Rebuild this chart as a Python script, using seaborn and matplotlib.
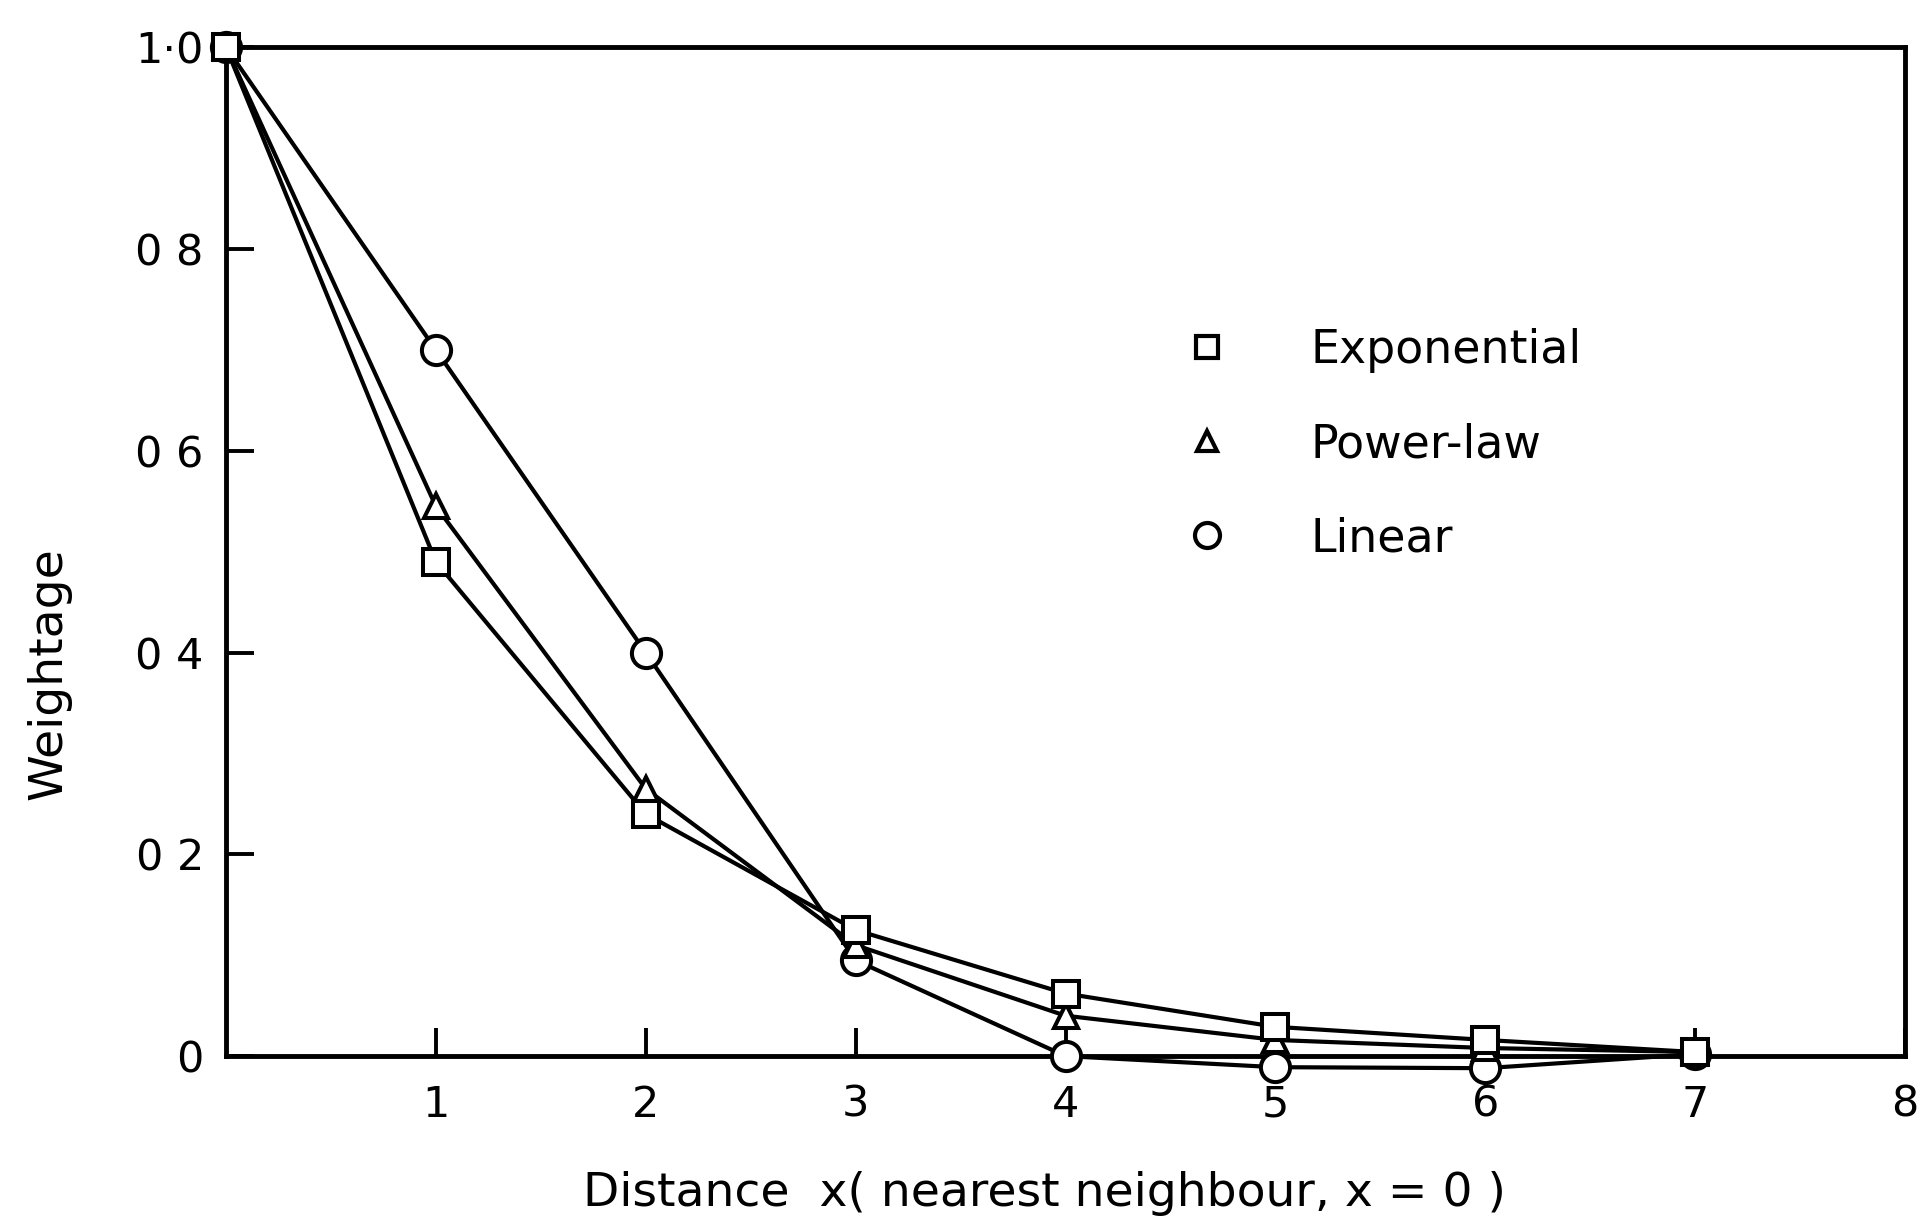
import matplotlib
matplotlib.use("Agg")
import matplotlib.pyplot as plt
from matplotlib.lines import Line2D
import seaborn as sns
import pandas as pd

# ---- data ----
distance = [0, 1, 2, 3, 4, 5, 6, 7]
exponential = [1.0, 0.49, 0.24, 0.125, 0.062, 0.029, 0.016, 0.004]
power_law = [1.0, 0.545, 0.265, 0.11, 0.04, 0.016, 0.008, 0.004]
linear = [1.0, 0.70, 0.40, 0.095, 0.0, -0.011, -0.012, 0.002]

series_names = ["Exponential", "Power-law", "Linear"]
series_markers = {"Exponential": "s", "Power-law": "^", "Linear": "o"}
series_sizes = {"Exponential": 19, "Power-law": 17, "Linear": 21}

x_ticks = [1, 2, 3, 4, 5, 6, 7, 8]
x_ticklabels = ["1", "2", "3", "4", "5", "6", "7", "8"]
y_ticks = [0, 0.2, 0.4, 0.6, 0.8, 1.0]
y_ticklabels = ["0", "0 2", "0 4", "0 6", "0 8", "1·0"]

df = pd.DataFrame({
    "x": distance * 3,
    "w": exponential + power_law + linear,
    "series": sum([[n] * len(distance) for n in series_names], []),
})

sns.set_theme(style="white")
plt.rcParams["font.family"] = ["DejaVu Sans"]
plt.rcParams["text.color"] = "black"
plt.rcParams["axes.labelcolor"] = "black"

fig = plt.figure(figsize=(19.2, 12.28), dpi=100)
ax = fig.add_axes([0.1177, 0.1400, 0.8745, 0.8215])

for name in ["Linear", "Power-law", "Exponential"]:
    sub = df[df["series"] == name]
    sns.lineplot(data=sub, x="x", y="w", ax=ax, color="black", linewidth=3.0,
                 marker=series_markers[name], markersize=series_sizes[name],
                 markerfacecolor="white", markeredgecolor="black",
                 markeredgewidth=2.9, estimator=None, sort=False, legend=False,
                 zorder=3, clip_on=False)

ax.set_xlim(0, 8)
ax.set_ylim(0, 1.0)
ax.set_xticks(x_ticks)
ax.set_xticklabels(x_ticklabels)
ax.set_yticks(y_ticks)
ax.set_yticklabels(y_ticklabels)
ax.tick_params(axis="both", direction="in", length=20, width=2.8,
               labelsize=31, colors="black")
ax.tick_params(axis="x", pad=20)
ax.tick_params(axis="y", pad=16)
ax.tick_params(bottom=True, left=True)
for s in ax.spines.values():
    s.set_linewidth(3.5)
    s.set_color("black")
    s.set_visible(True)

ax.set_xlabel("Distance  x( nearest neighbour, x = 0 )", fontsize=34, labelpad=30)
ax.xaxis.set_label_coords(0.4875, -0.114)
ax.set_ylabel("Weightage", fontsize=34)
ax.yaxis.set_label_coords(-0.092, 0.379)

handles = [Line2D([], [], linestyle="none", marker=series_markers[n],
                  markersize=series_sizes[n] - 3, markerfacecolor="white",
                  markeredgecolor="black", markeredgewidth=3.0)
           for n in series_names]
ax.legend(handles, series_names, loc="center left", bbox_to_anchor=(0.546, 0.606),
          frameon=False, fontsize=33, handlelength=1.0, handletextpad=1.77,
          labelspacing=1.07, borderpad=0.4)

fig.savefig("out.png", dpi=100, facecolor="white")
